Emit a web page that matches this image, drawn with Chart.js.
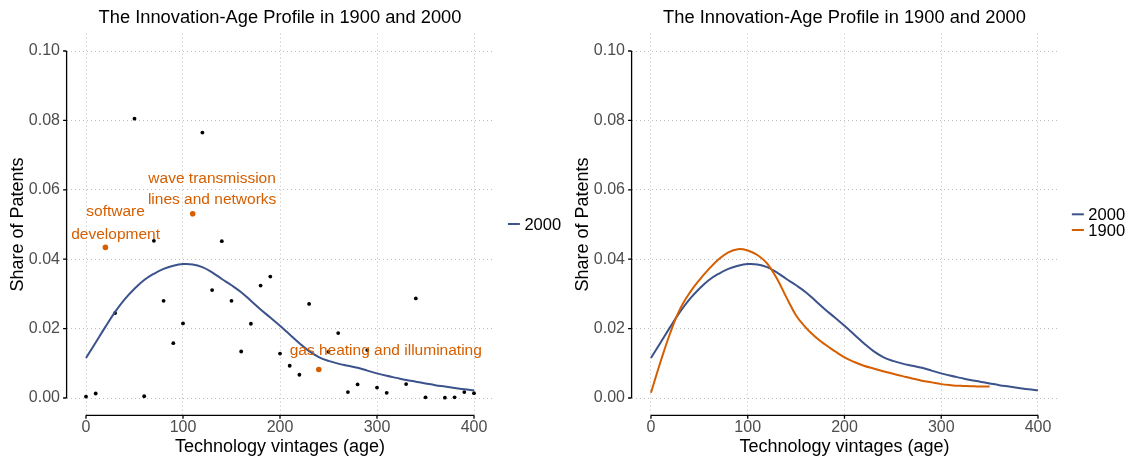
<!DOCTYPE html>
<html>
<head>
<meta charset="utf-8">
<title>The Innovation-Age Profile in 1900 and 2000</title>
<script src="https://cdn.jsdelivr.net/npm/chart.js@4.4.1/dist/chart.umd.min.js"></script>
<style>
  html, body { margin: 0; padding: 0; background: #fff; }
  #wrap { position: relative; width: 1132px; height: 458px; overflow: hidden; }
  #wrap canvas { position: absolute; top: 0; }
  #leftChart  { left: 0; }
  #rightChart { left: 565px; }
</style>
</head>
<body>
<div id="wrap">
  <canvas id="leftChart" width="565" height="458"></canvas>
  <canvas id="rightChart" width="567" height="458"></canvas>
</div>
<script>
'use strict';

// ── Data: smoothed profiles ───────────────────────────────
const AGE = [0, 10, 20, 30, 40, 50, 60, 70, 80, 90, 100, 110, 120, 130, 140, 150, 160, 170, 180, 190,
             200, 210, 220, 230, 240, 250, 260, 270, 280, 290, 300, 310, 320, 330, 340, 350, 360, 370, 380, 390, 400];
const SHARE_2000 = [0.0115, 0.0160, 0.0205, 0.0248, 0.0285, 0.0315, 0.0340, 0.0358, 0.0372, 0.0381,
                    0.0386, 0.0385, 0.0377, 0.0362, 0.0343, 0.0325, 0.0305, 0.0280, 0.0255, 0.0232,
                    0.0208, 0.0183, 0.0158, 0.0135, 0.0118, 0.0107, 0.0099, 0.0093, 0.0087, 0.0079,
                    0.0071, 0.0064, 0.0058, 0.0052, 0.0047, 0.0042, 0.0037, 0.0033, 0.0029, 0.0025, 0.0022];

const AGE_1900 = [0, 10, 20, 30, 40, 50, 60, 70, 80, 90, 100, 110, 120, 130, 140, 150, 160, 170, 180, 190,
                  200, 210, 220, 230, 240, 250, 260, 270, 280, 290, 300, 310, 320, 330, 340, 350];
const SHARE_1900 = [0.0015, 0.0105, 0.0188, 0.0256, 0.0303, 0.0340, 0.0372, 0.0400, 0.0420, 0.0429,
                    0.0425, 0.0412, 0.0388, 0.0345, 0.0290, 0.0238, 0.0203, 0.0176, 0.0154, 0.0135,
                    0.0117, 0.0104, 0.0093, 0.0085, 0.0077, 0.0070, 0.0063, 0.0056, 0.0050, 0.0045,
                    0.0040, 0.0037, 0.0035, 0.0034, 0.0033, 0.0033];

// ── Data: patent classes (2000) ───────────────────────────
const PT_AGE = [0, 10, 30, 50, 60, 70, 80, 90, 100, 120, 130, 140, 150, 160, 170, 180, 190, 200,
                210, 220, 230, 250, 260, 270, 280, 290, 300, 310, 330, 340, 350, 370, 380, 390, 400];
const PT_SHARE = [0.0004, 0.0013, 0.0245, 0.0805, 0.0005, 0.0453, 0.0280, 0.0158, 0.0215, 0.0765,
                  0.0311, 0.0452, 0.0280, 0.0134, 0.0214, 0.0324, 0.0350, 0.0128, 0.0093, 0.0067,
                  0.0271, 0.0133, 0.0187, 0.0017, 0.0039, 0.0138, 0.0030, 0.0015, 0.0040, 0.0287,
                  0.0002, 0.0001, 0.0002, 0.0017, 0.0014];

// highlighted classes + their labels
const HL_AGE   = [20, 110, 240];
const HL_SHARE = [0.0434, 0.0531, 0.0082];
const NOTE_TEXT  = ['software', 'development', 'wave transmission', 'lines and networks', 'gas heating and illuminating'];
const NOTE_AGE   = [30.5, 30.5, 130, 130, 309];
const NOTE_SHARE = [0.0536, 0.0470, 0.0631, 0.0571, 0.0136];

// ── Axes ──────────────────────────────────────────────────
const X_TICKS = [0, 100, 200, 300, 400];
const Y_TICKS = [0, 0.02, 0.04, 0.06, 0.08, 0.10];
const LEGEND_LEFT  = ['2000'];
const LEGEND_RIGHT = ['2000', '1900'];

// ── Style ─────────────────────────────────────────────────
const BLUE       = '#3B528B';
const ORANGE     = '#D55E00';
const FONT       = "'Liberation Sans', Arial, sans-serif";
const TICK_COLOR = '#4d4d4d';
const GRID_COLOR = '#bdbdbd';
const TITLE      = 'The Innovation-Age Profile in 1900 and 2000';

Chart.defaults.font.family = FONT;
Chart.defaults.color = '#000';

const toXY = (xs, ys) => xs.map((x, i) => ({ x, y: ys[i] }));

// ── Plugins ───────────────────────────────────────────────
// axis lines only over the range of the breaks (rangeframe look)
const rangeFrame = {
  id: 'rangeFrame',
  afterDraw(chart) {
    const { ctx, chartArea: a, scales: { x, y } } = chart;
    const x0 = x.getPixelForValue(X_TICKS[0]);
    const x1 = x.getPixelForValue(X_TICKS[X_TICKS.length - 1]);
    const y0 = y.getPixelForValue(Y_TICKS[0]);
    const y1 = y.getPixelForValue(Y_TICKS[Y_TICKS.length - 1]);
    ctx.save();
    ctx.strokeStyle = '#000';
    ctx.lineWidth = 1.3;
    ctx.beginPath();
    ctx.moveTo(a.left, y1);
    ctx.lineTo(a.left, y0);
    Y_TICKS.forEach(v => {
      const p = y.getPixelForValue(v);
      ctx.moveTo(a.left - 3.5, p);
      ctx.lineTo(a.left, p);
    });
    ctx.moveTo(x0, a.bottom);
    ctx.lineTo(x1, a.bottom);
    X_TICKS.forEach(v => {
      const p = x.getPixelForValue(v);
      ctx.moveTo(p, a.bottom);
      ctx.lineTo(p, a.bottom + 3.5);
    });
    ctx.stroke();
    ctx.restore();
  }
};

// ggplot-style legend: short line key + label, right of the panel
const keyLegend = {
  id: 'keyLegend',
  afterDraw(chart, args, opts) {
    const { ctx, chartArea: a } = chart;
    const items = opts.items || [];
    const mid = (a.top + a.bottom) / 2 + (opts.shift || 0);
    ctx.save();
    ctx.font = `16.5px ${FONT}`;
    ctx.textBaseline = 'middle';
    ctx.textAlign = 'left';
    items.forEach((it, i) => {
      const yy = mid + (i - (items.length - 1) / 2) * 15.7;
      ctx.strokeStyle = it.color;
      ctx.lineWidth = 2;
      ctx.beginPath();
      ctx.moveTo(a.right + 14.5, yy);
      ctx.lineTo(a.right + 26.5, yy);
      ctx.stroke();
      ctx.fillStyle = '#000';
      ctx.fillText(it.text, a.right + 31, yy + 1);
    });
    ctx.restore();
  }
};

// orange text labels next to the highlighted classes
const notes = {
  id: 'notes',
  afterDatasetsDraw(chart, args, opts) {
    if (!opts.show) return;
    const { ctx, scales: { x, y } } = chart;
    ctx.save();
    ctx.font = `15.5px ${FONT}`;
    ctx.fillStyle = ORANGE;
    ctx.textAlign = 'center';
    ctx.textBaseline = 'middle';
    NOTE_TEXT.forEach((t, i) => {
      ctx.fillText(t, x.getPixelForValue(NOTE_AGE[i]), y.getPixelForValue(NOTE_SHARE[i]));
    });
    ctx.restore();
  }
};

// ── Chart builder ─────────────────────────────────────────
function buildChart(canvasId, datasets, legendItems, legendShift, padRight, withNotes) {
  return new Chart(document.getElementById(canvasId), {
    type: 'scatter',
    data: { datasets },
    options: {
      responsive: false,
      animation: false,
      devicePixelRatio: 1,
      layout: { padding: { left: 0, right: padRight, top: 0, bottom: 0 } },
      plugins: {
        legend: { display: false },
        tooltip: { enabled: false },
        title: {
          display: true,
          text: TITLE,
          fullSize: false,
          color: '#000',
          font: { size: 18.3, weight: 'normal' },
          padding: { top: 7.0, bottom: 4.7 }
        },
        keyLegend: { items: legendItems, shift: legendShift },
        notes: { show: withNotes }
      },
      scales: {
        x: {
          type: 'linear',
          min: -20,
          max: 420,
          afterBuildTicks: s => { s.ticks = X_TICKS.map(value => ({ value })); },
          afterFit: s => { s.height = 42.65; },
          grid: { color: GRID_COLOR, lineWidth: 1, drawTicks: false },
          border: { display: false, dash: [1, 3] },
          ticks: {
            color: TICK_COLOR, font: { size: 16 }, padding: 3,
            maxRotation: 0, autoSkip: false,
            callback: v => String(v)
          },
          title: {
            display: true, text: 'Technology vintages (age)', color: '#000',
            font: { size: 18 }, padding: { top: 0, bottom: 0 }
          }
        },
        y: {
          type: 'linear',
          min: -0.005,
          max: 0.105,
          afterBuildTicks: s => { s.ticks = Y_TICKS.map(value => ({ value })); },
          afterFit: s => { s.width = 66.6; },
          grid: { color: GRID_COLOR, lineWidth: 1, drawTicks: false },
          border: { display: false, dash: [1, 3] },
          ticks: {
            color: TICK_COLOR, font: { size: 16 }, padding: 6.6,
            callback: v => v.toFixed(2)
          },
          title: {
            display: true, text: 'Share of Patents', color: '#000',
            font: { size: 18 }, padding: { top: 7.2, bottom: 0 }
          }
        }
      }
    },
    plugins: [rangeFrame, keyLegend, notes]
  });
}

// ── Left: classes + 2000 profile ──────────────────────────
buildChart('leftChart', [
  {
    label: 'highlight',
    data: toXY(HL_AGE, HL_SHARE),
    backgroundColor: ORANGE,
    borderWidth: 0,
    pointRadius: 2.8,
    order: 0
  },
  {
    label: '2000',
    data: toXY(AGE, SHARE_2000),
    showLine: true,
    borderColor: BLUE,
    borderWidth: 2,
    pointRadius: 0,
    tension: 0.4,
    fill: false,
    order: 1
  },
  {
    label: 'classes',
    data: toXY(PT_AGE, PT_SHARE),
    backgroundColor: '#000',
    borderWidth: 0,
    pointRadius: 1.9,
    order: 2
  }
], LEGEND_LEFT.map(t => ({ text: t, color: BLUE })), -0.5, 71.6, true);

// ── Right: 1900 vs 2000 ───────────────────────────────────
buildChart('rightChart', [
  {
    label: '1900',
    data: toXY(AGE_1900, SHARE_1900),
    showLine: true,
    borderColor: ORANGE,
    borderWidth: 2,
    pointRadius: 0,
    tension: 0.4,
    fill: false,
    order: 0
  },
  {
    label: '2000',
    data: toXY(AGE, SHARE_2000),
    showLine: true,
    borderColor: BLUE,
    borderWidth: 2,
    pointRadius: 0,
    tension: 0.4,
    fill: false,
    order: 1
  }
], LEGEND_RIGHT.map((t, i) => ({ text: t, color: i === 0 ? BLUE : ORANGE })), -2.35, 74.65, false);
</script>
</body>
</html>
